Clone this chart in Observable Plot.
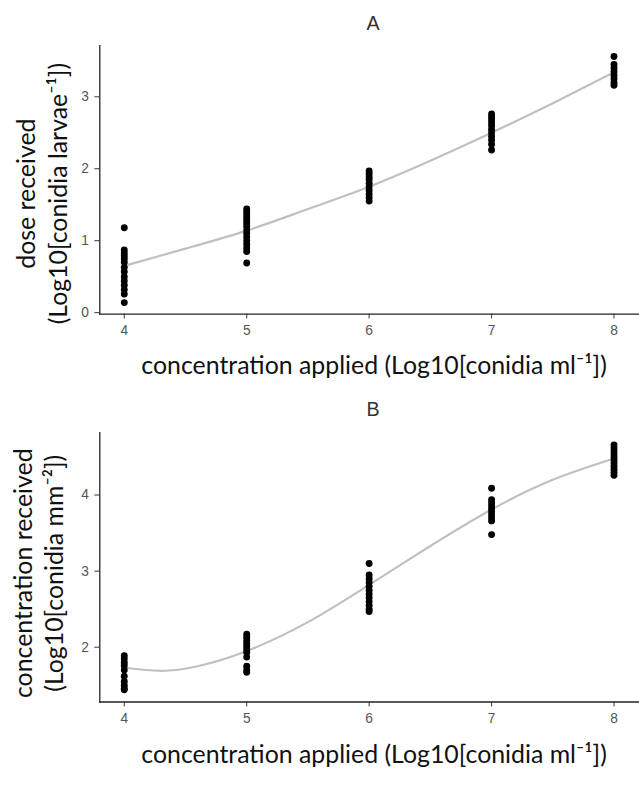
<!DOCTYPE html>
<html>
<head>
<meta charset="utf-8">
<script src="https://cdn.jsdelivr.net/npm/d3@7"></script>
<script src="https://cdn.jsdelivr.net/npm/@observablehq/plot@0.6"></script>
<style>
  html, body { margin: 0; padding: 0; background: #fff; overflow: hidden; }
  #chart svg { display: block; }
</style>
</head>
<body>
<div id="chart"></div>
<script>
// concentration applied (Log10 conidia ml-1)
const xLevels = [4, 5, 6, 7, 8];
const xTicks = [4, 5, 6, 7, 8];

// Panel A: dose received (Log10 conidia larvae-1), one array per applied level
const doseA4 = [1.18, 0.87, 0.83, 0.79, 0.75, 0.70, 0.63, 0.57, 0.50, 0.44, 0.38, 0.32, 0.26, 0.14];
const doseA5 = [1.44, 1.40, 1.36, 1.32, 1.28, 1.24, 1.20, 1.15, 1.10, 1.05, 1.00, 0.95, 0.90, 0.85, 0.69];
const doseA6 = [1.97, 1.93, 1.89, 1.85, 1.80, 1.75, 1.70, 1.65, 1.60, 1.55];
const doseA7 = [2.76, 2.72, 2.68, 2.64, 2.60, 2.55, 2.50, 2.45, 2.40, 2.34, 2.26];
const doseA8 = [3.56, 3.45, 3.40, 3.35, 3.30, 3.25, 3.20, 3.16];
const yTicksA = [0, 1, 2, 3];

// Panel A fitted curve
const fitAx = [4, 4.5, 5, 5.5, 6, 6.5, 7, 7.5, 8];
const fitAy = [0.65, 0.89, 1.14, 1.44, 1.75, 2.11, 2.50, 2.91, 3.34];

// Panel B: concentration received (Log10 conidia mm-2)
const concB4 = [1.89, 1.85, 1.80, 1.76, 1.70, 1.62, 1.55, 1.50, 1.46, 1.44];
const concB5 = [2.17, 2.13, 2.09, 2.05, 2.01, 1.97, 1.93, 1.87, 1.75, 1.70, 1.67];
const concB6 = [3.10, 2.95, 2.90, 2.85, 2.80, 2.75, 2.70, 2.65, 2.60, 2.55, 2.50, 2.47];
const concB7 = [4.09, 3.94, 3.90, 3.86, 3.82, 3.78, 3.74, 3.70, 3.66, 3.48];
const concB8 = [4.66, 4.62, 4.58, 4.54, 4.50, 4.46, 4.42, 4.38, 4.34, 4.30, 4.26];
const yTicksB = [2, 3, 4];

// Panel B fitted curve
const fitBx = [4, 4.3, 4.6, 5, 5.5, 6, 6.5, 7, 7.5, 8];
const fitBy = [1.73, 1.69, 1.75, 1.95, 2.33, 2.82, 3.33, 3.81, 4.20, 4.48];

// Text
const titleA = "A";
const titleB = "B";
const xLabel = "concentration applied (Log10[conidia ml\u207B\u00B9])";
const yLabelA = "dose received\n(Log10[conidia larvae\u207B\u00B9])";
const yLabelB = "concentration received\n(Log10[conidia mm\u207B\u00B2])";

// ---- build tables ----
const pointsA = [doseA4, doseA5, doseA6, doseA7, doseA8]
  .flatMap((arr, i) => arr.map(v => ({x: xLevels[i], y: v})));
const pointsB = [concB4, concB5, concB6, concB7, concB8]
  .flatMap((arr, i) => arr.map(v => ({x: xLevels[i], y: v})));
const fitA = fitAx.map((x, i) => ({x, y: fitAy[i]}));
const fitB = fitBx.map((x, i) => ({x, y: fitBy[i]}));

const labelFont = "Lato, 'Open Sans', sans-serif";
const tickFont = "'Liberation Sans', Arial, sans-serif";

function panel({points, fit, yDomain, yTicks, title, yLabel, height, marginTop, marginBottom,
                titleDy, xLabelDy, yLabelDx, yLabelDy, yLabelLH}) {
  return Plot.plot({
    width: 650,
    height,
    marginLeft: 101,
    marginRight: 1,
    marginTop,
    marginBottom,
    style: {fontFamily: tickFont, fontSize: "14px", background: "#fff", overflow: "visible"},
    x: {domain: [3.8, 8.2]},
    y: {domain: yDomain},
    marks: [
      Plot.frame({anchor: "left", stroke: "#222", strokeWidth: 1.3}),
      Plot.frame({anchor: "bottom", stroke: "#222", strokeWidth: 1.3}),
      Plot.axisX({ticks: xTicks, tickFormat: d => String(d), tickSize: 5, tickPadding: 6,
        stroke: "#333", fill: "#555", label: null}),
      Plot.axisY({ticks: yTicks, tickFormat: d => String(d), tickSize: 5, tickPadding: 6,
        stroke: "#333", fill: "#555", label: null}),
      Plot.line(fit, {x: "x", y: "y", curve: "natural", stroke: "#c0c0c0", strokeWidth: 2.2}),
      Plot.dot(points, {x: "x", y: "y", r: 3.5, fill: "#000", stroke: "none"}),
      Plot.text([title], {frameAnchor: "top", dx: 4, dy: titleDy, fontSize: 20, fill: "#333",
        fontFamily: tickFont, textAnchor: "middle", lineAnchor: "middle"}),
      Plot.text([xLabel], {frameAnchor: "bottom", dx: 5, dy: xLabelDy, fontSize: 25.3, fill: "#111",
        fontFamily: labelFont, textAnchor: "middle", lineAnchor: "middle"}),
      Plot.text([yLabel], {frameAnchor: "left", dx: yLabelDx, dy: yLabelDy, rotate: -90, fontSize: 25.3,
        fill: "#111", fontFamily: labelFont, textAnchor: "middle", lineAnchor: "middle", lineHeight: yLabelLH})
    ]
  });
}

const chartA = panel({
  points: pointsA, fit: fitA, yDomain: [-0.02, 3.71], yTicks: yTicksA, title: titleA, yLabel: yLabelA,
  height: 390, marginTop: 46, marginBottom: 71, titleDy: -22, xLabelDy: 53,
  yLabelDx: -60, yLabelDy: 14, yLabelLH: 1.3
});
const chartB = panel({
  points: pointsB, fit: fitB, yDomain: [1.28, 4.82], yTicks: yTicksB, title: titleB, yLabel: yLabelB,
  height: 397, marginTop: 50, marginBottom: 73, titleDy: -23, xLabelDy: 54,
  yLabelDx: -63, yLabelDy: 6, yLabelLH: 1.22
});
document.getElementById("chart").append(chartA, chartB);
</script>
</body>
</html>
